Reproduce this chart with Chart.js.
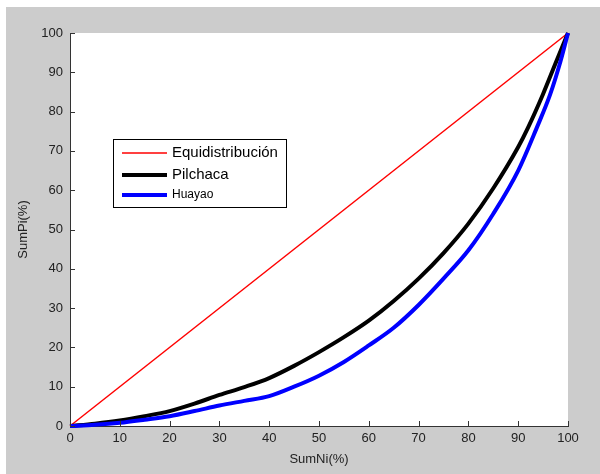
<!DOCTYPE html>
<html>
<head>
<meta charset="utf-8">
<script src="https://cdn.jsdelivr.net/npm/chart.js@4.4.1/dist/chart.umd.min.js"></script>
<style>
html,body{margin:0;padding:0;background:#fff;}
#wrap{width:600px;height:474px;position:relative;}
</style>
</head>
<body>
<div id="wrap"><canvas id="c" width="600" height="474"></canvas></div>
<script>
// ---- data ----
const seriesLabels = ['Equidistribución', 'Pilchaca', 'Huayao'];
const equiX = [0, 100];
const equiY = [0, 100];
const pilchacaX = [0, 5, 10, 15, 20, 25, 30, 35, 40, 45, 50, 55, 60, 65, 70, 75, 80, 85, 90, 92, 95, 97.5, 100];
const pilchacaY = [0, 0.6, 1.4, 2.5, 3.8, 5.7, 7.9, 9.9, 12.2, 15.3, 18.8, 22.6, 26.8, 31.8, 37.5, 44, 51.5, 60.5, 71, 76, 84.5, 92.3, 100];
const huayaoX = [0, 5, 10, 15, 20, 25, 30, 35, 40, 45, 50, 55, 60, 65, 70, 75, 80, 85, 90, 93.7, 96.4, 98.5, 100];
const huayaoY = [0, 0.3, 0.8, 1.6, 2.5, 3.8, 5.2, 6.4, 7.6, 10, 12.8, 16.3, 20.5, 25, 30.8, 37.5, 44.7, 54, 65, 75.8, 84.3, 92.8, 100];
const xTicks = [0, 10, 20, 30, 40, 50, 60, 70, 80, 90, 100];
const yTicks = [0, 10, 20, 30, 40, 50, 60, 70, 80, 90, 100];

const toPts = (xs, ys) => xs.map((x, i) => ({x: x, y: ys[i]}));

const FONT = 'Arial, "Liberation Sans", sans-serif';
const AXIS_COLOR = '#333333';

const bgPlugin = {
  id: 'bg',
  beforeDraw(chart) {
    const ctx = chart.ctx, a = chart.chartArea;
    ctx.save();
    ctx.fillStyle = '#ffffff';
    ctx.fillRect(0, 0, chart.width, chart.height);
    ctx.fillStyle = '#cccccc';
    ctx.fillRect(6, 7, chart.width - 6, chart.height - 7);
    ctx.fillStyle = '#ffffff';
    ctx.fillRect(a.left, a.top, a.right - a.left, a.bottom - a.top);
    ctx.restore();
  }
};

const ticksPlugin = {
  id: 'inTicks',
  afterDraw(chart) {
    const ctx = chart.ctx, a = chart.chartArea;
    const xs = chart.scales.x, ys = chart.scales.y;
    ctx.save();
    ctx.strokeStyle = AXIS_COLOR;
    ctx.lineWidth = 1;
    ctx.beginPath();
    xTicks.forEach(v => {
      const px = Math.round(xs.getPixelForValue(v)) + 0.5;
      ctx.moveTo(px, a.bottom);
      ctx.lineTo(px, a.bottom - 5);
    });
    yTicks.forEach(v => {
      const py = Math.round(ys.getPixelForValue(v)) + 0.5;
      ctx.moveTo(a.left, py);
      ctx.lineTo(a.left + 5, py);
    });
    ctx.stroke();
    ctx.restore();
  }
};

const legendPlugin = {
  id: 'boxLegend',
  afterDraw(chart) {
    const ctx = chart.ctx;
    const bx = 113, by = 139, bw = 173, bh = 68;
    const rowY = [153, 175, 195];
    const fonts = ['15px ' + FONT, '15px ' + FONT, '12px ' + FONT];
    ctx.save();
    ctx.fillStyle = '#ffffff';
    ctx.fillRect(bx, by, bw, bh);
    ctx.strokeStyle = '#000000';
    ctx.lineWidth = 1;
    ctx.strokeRect(bx + 0.5, by + 0.5, bw, bh);
    chart.data.datasets.forEach((ds, i) => {
      ctx.strokeStyle = ds.borderColor;
      ctx.lineWidth = ds.borderWidth;
      ctx.beginPath();
      ctx.moveTo(122, rowY[i]);
      ctx.lineTo(167, rowY[i]);
      ctx.stroke();
      ctx.fillStyle = '#000000';
      ctx.font = fonts[i];
      ctx.textBaseline = 'middle';
      ctx.textAlign = 'left';
      ctx.fillText(ds.label, 172, rowY[i]);
    });
    ctx.restore();
  }
};

new Chart(document.getElementById('c'), {
  type: 'scatter',
  data: {
    datasets: [
      {label: seriesLabels[0], data: toPts(equiX, equiY), showLine: true, borderColor: '#ff0000', backgroundColor: '#ff0000', borderWidth: 1.5, pointRadius: 0, order: 2, clip: 8},
      {label: seriesLabels[1], data: toPts(pilchacaX, pilchacaY), showLine: true, borderColor: '#000000', backgroundColor: '#000000', borderWidth: 4, pointRadius: 0, cubicInterpolationMode: 'monotone', order: 1, clip: 8},
      {label: seriesLabels[2], data: toPts(huayaoX, huayaoY), showLine: true, borderColor: '#0000ff', backgroundColor: '#0000ff', borderWidth: 4, pointRadius: 0, cubicInterpolationMode: 'monotone', order: 0, clip: 8}
    ]
  },
  options: {
    responsive: false,
    animation: false,
    events: [],
    layout: {padding: {left: 0, right: 32, top: 33, bottom: 0}},
    plugins: {legend: {display: false}, tooltip: {enabled: false}},
    scales: {
      x: {
        type: 'linear', min: 0, max: 100,
        afterBuildTicks: s => { s.ticks = xTicks.map(v => ({value: v})); },
        afterFit: s => { s.height = 48; },
        grid: {display: false, drawTicks: false},
        border: {display: true, color: AXIS_COLOR, width: 1},
        ticks: {padding: 5, color: '#222222', font: {family: FONT, size: 13}, maxRotation: 0, autoSkip: false},
        title: {display: true, text: 'SumNi(%)', color: '#222222', font: {family: FONT, size: 13}, padding: {top: 0, bottom: 7}}
      },
      y: {
        type: 'linear', min: 0, max: 100,
        afterBuildTicks: s => { s.ticks = yTicks.map(v => ({value: v})); },
        afterFit: s => { s.width = 70; },
        grid: {display: false, drawTicks: false},
        border: {display: true, color: AXIS_COLOR, width: 1},
        ticks: {padding: 7, color: '#222222', font: {family: FONT, size: 13}, autoSkip: false},
        title: {display: true, text: 'SumPi(%)', color: '#222222', font: {family: FONT, size: 13}, padding: {top: 16, bottom: 0}}
      }
    }
  },
  plugins: [bgPlugin, ticksPlugin, legendPlugin]
});
</script>
</body>
</html>
